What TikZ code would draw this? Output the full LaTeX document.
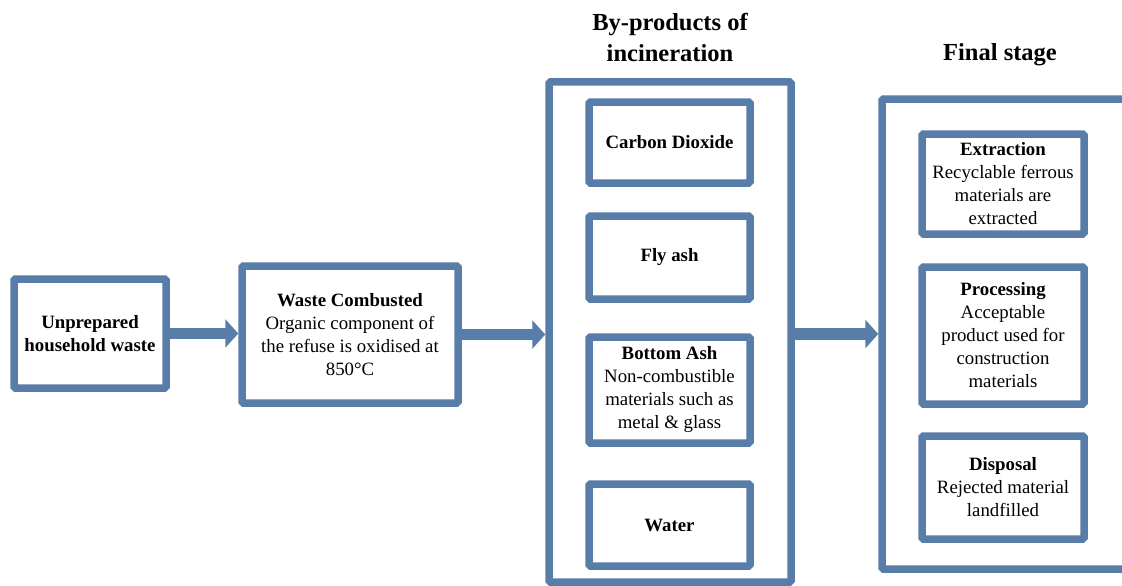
\documentclass[tikz,border=0pt]{standalone}
\usepackage{fontspec}
\setmainfont{Liberation Serif}
\usetikzlibrary{arrows.meta}
\definecolor{boxblue}{RGB}{88,125,168}
\tikzset{
  frame/.style={draw=boxblue, line width=7.5pt, fill=white, rounded corners=1.5pt,
    inner sep=0pt, align=center, font=\fontsize{18.8}{23}\selectfont},
  title/.style={align=center, font=\fontsize{24.5}{31}\selectfont\bfseries},
  flow/.style={draw=boxblue, line width=11.5pt, -{Triangle[length=13pt,width=28pt]}},
}
\begin{document}
\begin{tikzpicture}[x=1pt,y=-1pt]
\clip (0,0) rectangle (1122,586);
\fill[white] (0,0) rectangle (1122,586);

% column titles
\node[title] (ttlmid) at (670,37.5) {By-products of\\incineration};
\node[title] (ttlfin) at (1000,55) {Final stage};

% input stages
\node[frame, minimum width=152pt, minimum height=109pt] (raw) at (90,333.5)
  {\textbf{Unprepared}\\\textbf{household waste}};
\node[frame, minimum width=216pt, minimum height=137pt] (burn) at (350,334.5)
  {\textbf{Waste Combusted}\\Organic component of\\the refuse is oxidised at\\850°C};

% by-products group
\node[frame, minimum width=242pt, minimum height=500pt] (mid) at (670,332) {};
\node[frame, minimum width=161pt, minimum height=81pt] (co2) at (669.5,142.5) {\textbf{Carbon Dioxide}};
\node[frame, minimum width=161pt, minimum height=83pt] (fly) at (669.5,257.5) {\textbf{Fly ash}};
\node[frame, minimum width=161pt, minimum height=106pt] (btm) at (669.5,390)
  {\textbf{Bottom Ash}\\Non-combustible\\materials such as\\metal \& glass};
\node[frame, minimum width=161pt, minimum height=82pt] (wtr) at (669.5,525) {\textbf{Water}};

% final stage group (its right side runs past the page edge)
\node[frame, minimum width=245pt, minimum height=470pt] (fin) at (1004.5,334) {};
\node[frame, minimum width=162pt, minimum height=100pt] (ext) at (1003,184)
  {\textbf{Extraction}\\Recyclable ferrous\\materials are\\extracted};
\node[frame, minimum width=162pt, minimum height=137pt] (proc) at (1003,335.5)
  {\textbf{Processing}\\Acceptable\\product used for\\construction\\materials};
\node[frame, minimum width=162pt, minimum height=103pt] (disp) at (1003,487.5)
  {\textbf{Disposal}\\Rejected material\\landfilled};

% flow arrows
\draw[flow] (raw.east) -- (raw.east -| burn.west);
\draw[flow] (burn.east) -- (burn.east -| mid.west);
\draw[flow] (mid.east |- fin.west) -- (fin.west);
\end{tikzpicture}
\end{document}
